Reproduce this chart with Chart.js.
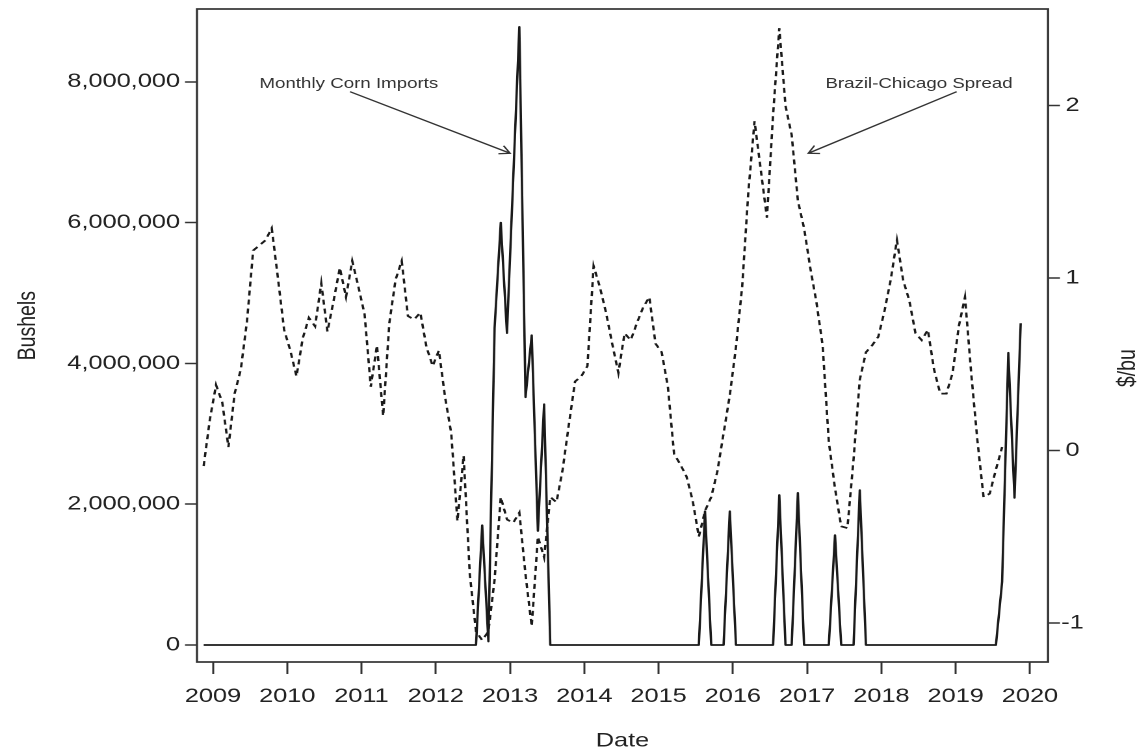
<!DOCTYPE html>
<html>
<head>
<meta charset="utf-8">
<title>Monthly corn imports and Brazil-Chicago spread</title>
<script src="https://cdn.jsdelivr.net/npm/chart.js@4.4.1/dist/chart.umd.min.js"></script>
<style>
  html, body { margin: 0; padding: 0; background: #fff; }
</style>
</head>
<body>
<!-- drawn at 883px wide and stretched to 1148px, like the original figure -->
<canvas id="myChart" width="883" height="753" style="width:1148px;height:753px;display:block"></canvas>
<script>
// monthly series, Nov 2008 .. Nov 2019
const firstYear = 2008;
const firstMonth = 11;

// monthly corn imports, bushels
const bushels = [
  0, 0,                                                                    // 2008
  0, 0, 0, 0, 0, 0, 0, 0, 0, 0, 0, 0,                                      // 2009
  0, 0, 0, 0, 0, 0, 0, 0, 0, 0, 0, 0,                                      // 2010
  0, 0, 0, 0, 0, 0, 0, 0, 0, 0, 0, 0,                                      // 2011
  0, 0, 0, 0, 0, 0, 0, 1700000, 50000, 4500000, 6000000, 4430000,          // 2012
  6600000, 8780000, 3520000, 4400000, 1620000, 3420000, 0, 0, 0, 0, 0, 0,  // 2013
  0, 0, 0, 0, 0, 0, 0, 0, 0, 0, 0, 0,                                      // 2014
  0, 0, 0, 0, 0, 0, 0, 1900000, 0, 0, 0, 1900000,                          // 2015
  0, 0, 0, 0, 0, 0, 0, 2130000, 0, 0, 2160000, 0,                          // 2016
  0, 0, 0, 0, 1560000, 0, 0, 0, 2200000, 0, 0, 0,                          // 2017
  0, 0, 0, 0, 0, 0, 0, 0, 0, 0, 0, 0,                                      // 2018
  0, 0, 0, 0, 0, 0, 0, 900000, 4150000, 2090000, 4570000                   // 2019
];

// Brazil-Chicago spread, $/bu
const spread = [
  -0.09, 0.18,                                                             // 2008
  0.38, 0.28, 0.02, 0.33, 0.47, 0.75, 1.16, 1.19, 1.22, 1.29, 1.00, 0.70,  // 2009
  0.58, 0.43, 0.65, 0.77, 0.72, 0.97, 0.69, 0.87, 1.06, 0.89, 1.10, 0.95,  // 2010
  0.79, 0.37, 0.61, 0.20, 0.74, 0.99, 1.10, 0.78, 0.76, 0.80, 0.60, 0.49,  // 2011
  0.58, 0.31, 0.10, -0.41, -0.03, -0.72, -1.05, -1.10, -1.05, -0.75, -0.27, -0.40, // 2012
  -0.42, -0.36, -0.72, -1.02, -0.50, -0.62, -0.27, -0.30, -0.11, 0.15, 0.40, 0.43, // 2013
  0.49, 1.07, 0.95, 0.80, 0.62, 0.45, 0.68, 0.64, 0.74, 0.83, 0.89, 0.62,  // 2014
  0.57, 0.37, -0.02, -0.08, -0.15, -0.29, -0.50, -0.35, -0.27, -0.12, 0.10, 0.32, // 2015
  0.60, 0.95, 1.50, 1.91, 1.63, 1.35, 1.95, 2.45, 2.00, 1.83, 1.45, 1.29,  // 2016
  1.06, 0.86, 0.61, 0.05, -0.22, -0.44, -0.45, -0.05, 0.41, 0.57, 0.61, 0.66, // 2017
  0.81, 0.99, 1.22, 0.99, 0.87, 0.68, 0.64, 0.70, 0.47, 0.33, 0.33, 0.45,  // 2018
  0.72, 0.89, 0.45, 0.06, -0.27, -0.25, -0.11, 0.02, null, null, null      // 2019
];

const yearTicks = [2009, 2010, 2011, 2012, 2013, 2014, 2015, 2016, 2017, 2018, 2019, 2020];
const bushelTicks = [0, 2000000, 4000000, 6000000, 8000000];
const spreadTicks = [-1, 0, 1, 2];

// labels with arrows, in data units (year, bushels)
const notes = [
  { text: 'Monthly Corn Imports', x: 2010.83, y: 7970000, from: [2010.845, 7860000], to: [2013.0, 6985000] },
  { text: 'Brazil-Chicago Spread', x: 2018.506, y: 7970000, from: [2019.013, 7860000], to: [2017.016, 6985000] }
];

window.addEventListener('load', function(){

    // mid-month position of every observation
    var dates = bushels.map((_, i) => firstYear + (firstMonth - 1 + i + 0.5) / 12);

    Chart.defaults.font.family = "'Liberation Sans', Arial, Helvetica, sans-serif";
    Chart.defaults.font.size = 19.5;
    Chart.defaults.color = '#222';

    var boxAndNotes = {
        id: 'boxAndNotes',
        afterDatasetsDraw(chart) {
            const ctx = chart.ctx;
            const a = chart.chartArea;
            const x = chart.scales.x, y = chart.scales.y;
            ctx.save();
            ctx.strokeStyle = '#333';
            ctx.lineWidth = 1.7;
            ctx.strokeRect(a.left, a.top, a.right - a.left, a.bottom - a.top);

            ctx.fillStyle = '#333';
            ctx.strokeStyle = '#333';
            ctx.lineWidth = 1.3;
            ctx.font = "14.4px 'Liberation Sans', Arial, sans-serif";
            ctx.textAlign = 'center';
            ctx.textBaseline = 'middle';
            notes.forEach(n => {
                ctx.fillText(n.text, x.getPixelForValue(n.x), y.getPixelForValue(n.y));
                const x1 = x.getPixelForValue(n.from[0]), y1 = y.getPixelForValue(n.from[1]);
                const x2 = x.getPixelForValue(n.to[0]), y2 = y.getPixelForValue(n.to[1]);
                const ang = Math.atan2(y2 - y1, x2 - x1);
                const len = 9;
                ctx.beginPath();
                ctx.moveTo(x1, y1);
                ctx.lineTo(x2, y2);
                ctx.moveTo(x2 - len * Math.cos(ang - Math.PI / 6), y2 - len * Math.sin(ang - Math.PI / 6));
                ctx.lineTo(x2, y2);
                ctx.lineTo(x2 - len * Math.cos(ang + Math.PI / 6), y2 - len * Math.sin(ang + Math.PI / 6));
                ctx.stroke();
            });

            // axis titles on both sides read bottom to top
            const h = a.bottom - a.top;
            ctx.fillStyle = '#222';
            ctx.font = "19.5px 'Liberation Sans', Arial, sans-serif";
            ctx.save();
            ctx.translate(21.5, a.top + 0.485 * h);
            ctx.rotate(-Math.PI / 2);
            ctx.fillText('Bushels', 0, 0);
            ctx.restore();
            ctx.translate(chart.width - 15.3, a.top + 0.55 * h);
            ctx.rotate(-Math.PI / 2);
            ctx.fillText('$/bu', 0, 0);
            ctx.restore();
        }
    };

    var ctx = document.getElementById('myChart').getContext('2d');
    var chart = new Chart(ctx, {
        type: 'line',
        data: {
            datasets: [{
                label: 'Monthly Corn Imports',
                yAxisID: 'y',
                borderColor: '#1a1a1a',
                borderWidth: 1.8,
                pointRadius: 0,
                tension: 0,
                borderJoinStyle: 'round',
                data: dates.map((d, i) => ({ x: d, y: bushels[i] }))
            }, {
                label: 'Brazil-Chicago Spread',
                yAxisID: 'y1',
                borderColor: '#1a1a1a',
                borderWidth: 1.8,
                borderDash: [5, 4],
                pointRadius: 0,
                tension: 0,
                spanGaps: false,
                data: dates.map((d, i) => ({ x: d, y: spread[i] }))
            }]
        },
        options: {
            responsive: false,
            devicePixelRatio: 2,
            animation: false,
            layout: { padding: { top: 9, left: 0, right: 0, bottom: 0 } },
            plugins: {
                legend: { display: false },
                tooltip: { enabled: false }
            },
            scales: {
                x: {
                    type: 'linear',
                    position: 'bottom',
                    min: 2008.785,
                    max: 2020.243,
                    afterBuildTicks: s => { s.ticks = yearTicks.map(v => ({ value: v })); },
                    afterFit: s => { s.height = 91; s.paddingLeft = 0; s.paddingRight = 0; },
                    grid: { drawOnChartArea: false, drawTicks: true, tickLength: 12, tickColor: '#333', tickWidth: 1.5 },
                    border: { display: false },
                    ticks: { padding: 11, maxRotation: 0, autoSkip: false, callback: v => String(v) },
                    title: { display: true, text: 'Date', padding: 0 }
                },
                y: {
                    type: 'linear',
                    position: 'left',
                    min: -241500,
                    max: 9034000,
                    afterBuildTicks: s => { s.ticks = bushelTicks.map(v => ({ value: v })); },
                    afterFit: s => { s.width = 151.5; s.paddingTop = 0; s.paddingBottom = 0; },
                    grid: { drawOnChartArea: false, drawTicks: true, tickLength: 9.2, tickColor: '#333', tickWidth: 1.5 },
                    border: { display: false },
                    ticks: { padding: 3.8, callback: v => v.toLocaleString('en-US') },
                    title: { display: false }
                },
                y1: {
                    type: 'linear',
                    position: 'right',
                    min: -1.2268,
                    max: 2.561,
                    afterBuildTicks: s => { s.ticks = spreadTicks.map(v => ({ value: v })); },
                    afterFit: s => { s.width = 76.9; s.paddingTop = 0; s.paddingBottom = 0; },
                    grid: { drawOnChartArea: false, drawTicks: true, tickLength: 9.2, tickColor: '#333', tickWidth: 1.5 },
                    border: { display: false },
                    ticks: { padding: 1, crossAlign: 'center', callback: v => String(v) },
                    title: { display: false }
                }
            }
        },
        plugins: [boxAndNotes]
    });
});
</script>
</body>
</html>
